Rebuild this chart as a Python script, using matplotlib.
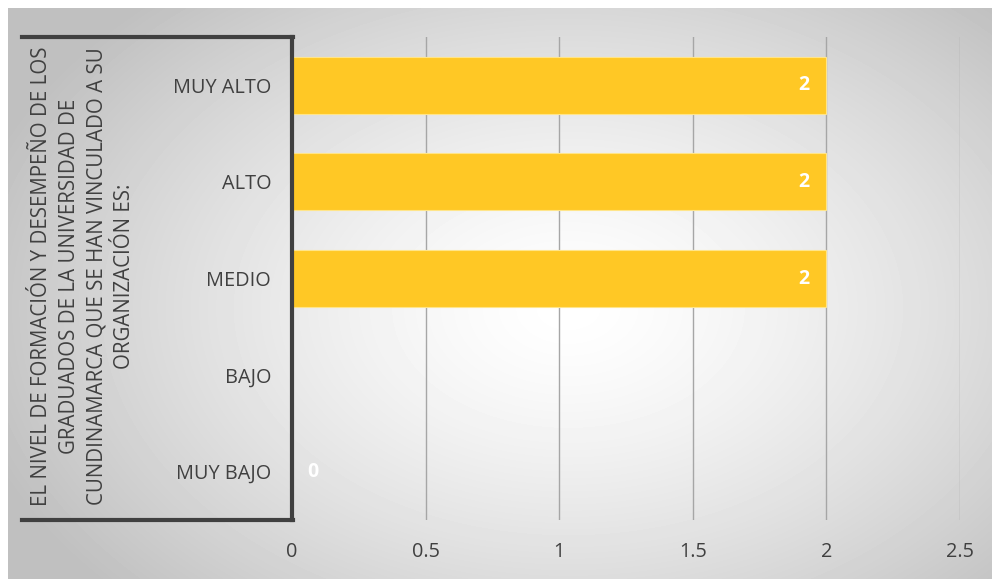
import numpy as np
import matplotlib.pyplot as plt
from matplotlib.lines import Line2D

categorias = ['MUY ALTO', 'ALTO', 'MEDIO', 'BAJO', 'MUY BAJO']
valores = [2, 2, 2, None, 0]
ticks_x = [0, 0.5, 1, 1.5, 2, 2.5]
titulo_eje = ('EL NIVEL DE FORMACIÓN Y DESEMPEÑO DE LOS\n'
              'GRADUADOS DE LA UNIVERSIDAD DE\n'
              'CUNDINAMARCA QUE SE HAN VINCULADO A SU\n'
              'ORGANIZACIÓN ES:')

plt.rcParams['font.family'] = ['Open Sans', 'DejaVu Sans']
W, H = 992, 579
fig = plt.figure(figsize=(W / 100, H / 100), dpi=100)
fig.patch.set_facecolor('white')

# fondo con degradado radial
bg = fig.add_axes([8 / W, 0, 1 - 8 / W, 1 - 8 / H])
bg.set_axis_off()
yy, xx = np.mgrid[0:571, 0:984]
cx, cy = 560, 300
d = np.sqrt(((xx - cx) / 620.0) ** 2 + ((yy - cy) / 420.0) ** 2)
g = np.clip(1.0 - 0.25 * d ** 1.4, 0.75, 1.0)
bg.imshow(g, cmap='gray', vmin=0, vmax=1, aspect='auto', interpolation='bilinear')

ax = fig.add_axes([292 / W, 1 - 520 / H, (960 - 292) / W, (520 - 37) / H])
ax.patch.set_alpha(0)
y = np.arange(len(categorias))
vals = [v if v is not None else 0 for v in valores]
bars = ax.barh(y, vals, height=0.59, color='#FFC825', edgecolor='#FFE58A',
               linewidth=0.8, zorder=3)
ax.set_ylim(len(categorias) - 0.5, -0.5)
ax.set_xlim(0, 2.5)
ax.set_xticks(ticks_x)
ax.set_xticklabels(['0', '0.5', '1', '1.5', '2', '2.5'])
ax.set_yticks(y)
ax.set_yticklabels(categorias)
ax.tick_params(axis='both', length=0, labelsize=14.3, colors='#404040')
ax.tick_params(axis='x', pad=16)
ax.tick_params(axis='y', pad=15)
ax.grid(axis='x', color='#a6a6a6', linewidth=1, zorder=0)
for s in ['top', 'right', 'bottom']:
    ax.spines[s].set_visible(False)
ax.spines['left'].set_color('#404040')
ax.spines['left'].set_linewidth(3)
ax.spines['left'].set_zorder(5)

for b, v in zip(bars, valores):
    if v is None:
        continue
    xt = b.get_width() - 0.065 if v > 0 else 0.1
    ax.text(xt, b.get_y() + b.get_height() / 2, str(v), ha='right', va='center',
            color='white', fontsize=14, fontweight='bold', zorder=4)

# marco del título del eje
fig.add_artist(Line2D([22 / W, 293 / W], [1 - 37 / H, 1 - 37 / H],
                      color='#404040', linewidth=3))
fig.add_artist(Line2D([22 / W, 293 / W], [1 - 520 / H, 1 - 520 / H],
                      color='#404040', linewidth=3))
fig.text(83 / W, 1 - 276 / H, titulo_eje, rotation=90, ha='center', va='center',
         multialignment='center', fontsize=14.8, color='#404040', linespacing=1.4)

fig.savefig('out.png', dpi=100)
